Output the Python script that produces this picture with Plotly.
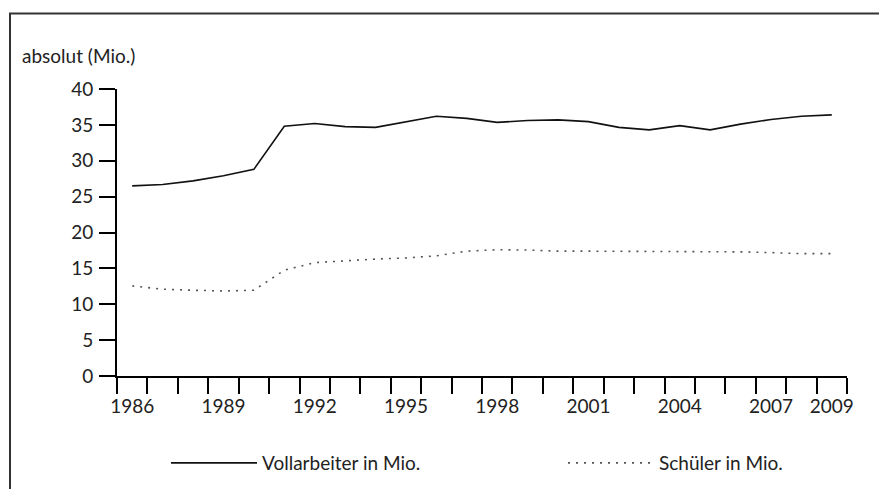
import plotly.graph_objects as go

years = list(range(1986, 2010))
vollarbeiter = [26.5, 26.7, 27.2, 27.9, 28.8, 34.8, 35.2, 34.75, 34.65, 35.4, 36.2, 35.9,
                35.35, 35.6, 35.7, 35.45, 34.65, 34.3, 34.9, 34.3, 35.1, 35.75, 36.2, 36.4]
schueler = [12.55, 12.1, 11.95, 11.85, 11.95, 14.75, 15.8, 16.1, 16.3, 16.45, 16.75, 17.4,
            17.6, 17.55, 17.4, 17.4, 17.4, 17.4, 17.35, 17.3, 17.3, 17.2, 17.05, 17.05]
x_labels = [1986, 1989, 1992, 1995, 1998, 2001, 2004, 2007, 2009]
y_ticks = [0, 5, 10, 15, 20, 25, 30, 35, 40]
name_voll = "Vollarbeiter in Mio."
name_sch = "Schüler in Mio."
y_title = "absolut (Mio.)"

FONT = "Lato"
TXT = "#222222"
L, R, T, B = 117, 32, 89, 113
PW, PH = 879 - L - R, 489 - T - B

half_years = [y - 0.5 for y in years] + [years[-1] + 0.5]

fig = go.Figure()
fig.add_trace(go.Scatter(x=years, y=vollarbeiter, mode="lines", name=name_voll,
                         legend="legend",
                         line=dict(color="#111111", width=1.6)))
fig.add_trace(go.Scatter(x=years, y=schueler, mode="lines", name=name_sch,
                         legend="legend2",
                         line=dict(color="#555555", width=1.6, dash="2px,6px")))

leg_common = dict(orientation="h", xanchor="left", yanchor="middle",
                  y=(PH - (463 - T)) / PH, itemwidth=86,
                  font=dict(family=FONT, size=19, color=TXT), bgcolor="rgba(0,0,0,0)")

fig.update_layout(
    width=879, height=489,
    margin=dict(l=L, r=R, t=T, b=B, autoexpand=False),
    paper_bgcolor="white", plot_bgcolor="white",
    font=dict(family=FONT, size=19, color=TXT),
    title=dict(text=y_title, x=22/879, xanchor="left", xref="container",
               y=1 - 56/489, yanchor="middle", font=dict(family=FONT, size=19, color=TXT)),
    showlegend=True,
    legend=dict(x=(166 - L) / PW, **leg_common),
    legend2=dict(x=(563 - L) / PW, **leg_common),
    xaxis=dict(range=[half_years[0], half_years[-1]], tickmode="array", tickvals=x_labels,
               ticktext=[str(v) for v in x_labels], ticks="outside", ticklen=12,
               tickcolor="rgba(0,0,0,0)", showline=True, linecolor="black", linewidth=2,
               showgrid=False, zeroline=False, tickfont=dict(family=FONT, size=19, color=TXT),
               minor=dict(tickmode="array", tickvals=half_years, ticks="outside", ticklen=16,
                          tickwidth=2, tickcolor="black", showgrid=False)),
    yaxis=dict(range=[0, 40], tickmode="array", tickvals=y_ticks, ticks="outside",
               ticklen=16, tickwidth=2, tickcolor="black", showline=True, linecolor="black",
               linewidth=2, showgrid=False, zeroline=False, ticklabelstandoff=2,
               tickfont=dict(family=FONT, size=19, color=TXT)),
    shapes=[dict(type="rect", xref="paper", yref="paper",
                 x0=(10 - L) / PW, x1=1.2, y0=-1.0, y1=1 + (T - 13.5) / PH,
                 line=dict(color="#333333", width=2), fillcolor="rgba(0,0,0,0)", layer="below")],
)

fig.write_html("out.html", config={"displayModeBar": False},
               post_script="document.body.style.margin='0';")
